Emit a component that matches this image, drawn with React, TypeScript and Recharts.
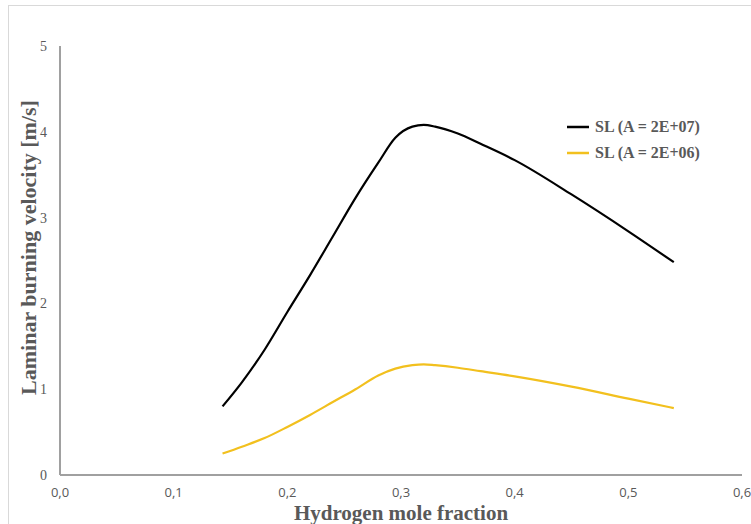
import React from 'react';
import { LineChart, Line, XAxis, YAxis } from 'recharts';

const xTicks = [0, 0.1, 0.2, 0.3, 0.4, 0.5, 0.6];
const yTicks = [0, 1, 2, 3, 4, 5];

const moleFraction = [0.143, 0.16, 0.18, 0.2, 0.22, 0.24, 0.26, 0.28, 0.295, 0.31, 0.32, 0.33, 0.35, 0.37, 0.4, 0.45, 0.5, 0.54];
const slHighA = [0.8, 1.08, 1.46, 1.9, 2.33, 2.78, 3.23, 3.64, 3.93, 4.06, 4.08, 4.06, 3.98, 3.86, 3.67, 3.27, 2.84, 2.48];
const slLowA = [0.25, 0.33, 0.43, 0.56, 0.7, 0.85, 1.0, 1.16, 1.24, 1.28, 1.29, 1.28, 1.25, 1.21, 1.15, 1.03, 0.89, 0.78];

const seriesNames = ['SL (A = 2E+07)', 'SL (A = 2E+06)'];
const seriesColors = ['#000000', '#f2c01e'];

const data = moleFraction.map((x, i) => ({ x, a: slHighA[i], b: slLowA[i] }));

const textGrey = '#595959';
const axisGrey = '#a0a0a0';

const LegendBox = () => (
  <div style={{ position: 'absolute', left: 567, top: 114, fontFamily: '"Liberation Serif", "Times New Roman", serif', fontWeight: 'bold', fontSize: 16, color: textGrey }}>
    {seriesNames.map((n, i) => (
      <div key={n} style={{ display: 'flex', alignItems: 'center', height: 26 }}>
        <svg width={22} height={4} style={{ marginRight: 6 }}>
          <line x1={0} y1={2} x2={22} y2={2} stroke={seriesColors[i]} strokeWidth={2.5} />
        </svg>
        <span>{n}</span>
      </div>
    ))}
  </div>
);

export default function App() {
  return (
    <div style={{ position: 'absolute', left: 0, top: 0, width: 751, height: 524, overflow: 'hidden', background: '#fff' }}>
      <div style={{ position: 'absolute', left: 8, top: 5, width: 800, height: 600, border: '1px solid #d9d9d9' }} />
      <div style={{ position: 'absolute', left: 0, top: 0 }}>
        <LineChart width={751} height={524} data={data} margin={{ top: 46, right: 9, bottom: 0, left: 0 }}>
          <XAxis
            dataKey="x"
            type="number"
            domain={[0, 0.6]}
            ticks={xTicks}
            tickFormatter={(v: number) => v.toFixed(1).replace('.', ',')}
            height={49}
            tickLine={false}
            tickSize={0}
            tickMargin={13}
            axisLine={{ stroke: axisGrey, strokeWidth: 2 }}
            tick={{ fill: textGrey, fontSize: 13, fontFamily: '"Open Sans", sans-serif' }}
            interval={0}
            label={{
              content: (props: any) => {
                const vb = props.viewBox || {};
                return (
                  <text x={vb.x + vb.width / 2} y={vb.y + vb.height - 4} textAnchor="middle" fill={textGrey}
                    style={{ fontFamily: '"Liberation Serif", serif', fontWeight: 'bold', fontSize: 21 }}>
                    Hydrogen mole fraction
                  </text>
                );
              },
            }}
          />
          <YAxis
            type="number"
            domain={[0, 5]}
            ticks={yTicks}
            width={60}
            tickLine={false}
            tickSize={0}
            tickMargin={13}
            axisLine={{ stroke: axisGrey, strokeWidth: 2 }}
            tick={{ fill: textGrey, fontSize: 14, fontFamily: '"Liberation Serif", serif' }}
            interval={0}
            label={{
              content: (props: any) => {
                const vb = props.viewBox || {};
                const cx = vb.x + 28;
                const cy = vb.y + vb.height / 2 - 13;
                return (
                  <text x={cx} y={cy} textAnchor="middle" dominantBaseline="central" fill={textGrey}
                    transform={`rotate(-90, ${cx}, ${cy})`}
                    style={{ fontFamily: '"Liberation Serif", serif', fontWeight: 'bold', fontSize: 22 }}>
                    Laminar burning velocity [m/s]
                  </text>
                );
              },
            }}
          />
          <Line type="monotone" dataKey="a" name={seriesNames[0]} stroke={seriesColors[0]} strokeWidth={2.2} dot={false} isAnimationActive={false} />
          <Line type="monotone" dataKey="b" name={seriesNames[1]} stroke={seriesColors[1]} strokeWidth={2.2} dot={false} isAnimationActive={false} />
        </LineChart>
      </div>
      <LegendBox />
    </div>
  );
}
